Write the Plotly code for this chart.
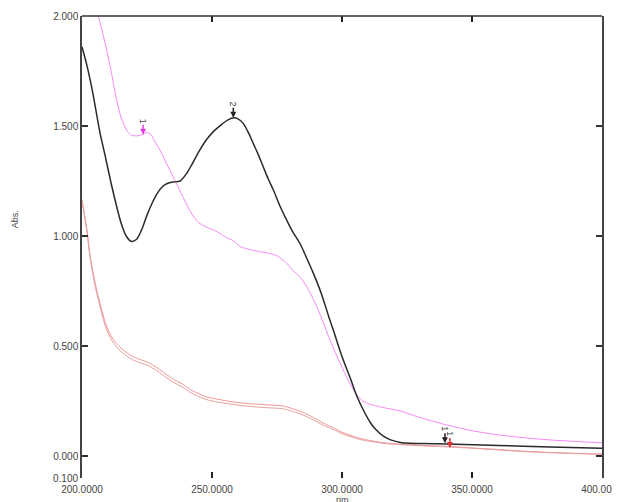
import plotly.graph_objects as go

# ---------------- data ----------------
black_nm = [200, 202, 204, 206.9, 209, 211, 213, 215, 217, 219, 221, 223, 225, 227, 229, 231, 233, 235,
            237.7, 240, 242, 245, 248, 251, 254, 256, 258.5, 260, 262, 264, 265.9, 267.8, 269.7, 271.6,
            273.6, 276, 278.7, 281, 283.8, 286.4, 289, 292, 295, 297, 299.2, 301, 303, 305.6, 308.2, 311,
            313, 315.9, 319, 323, 330, 340, 360, 380, 400]
black_abs = [1.86, 1.77, 1.66, 1.47, 1.36, 1.25, 1.15, 1.06, 1.0, 0.975, 0.985, 1.03, 1.095, 1.15, 1.195,
             1.225, 1.24, 1.245, 1.25, 1.28, 1.32, 1.385, 1.44, 1.48, 1.51, 1.527, 1.537, 1.532, 1.512,
             1.47, 1.42, 1.37, 1.315, 1.26, 1.209, 1.14, 1.073, 1.02, 0.967, 0.9, 0.83, 0.74, 0.63, 0.56,
             0.48, 0.42, 0.36, 0.275, 0.209, 0.15, 0.12, 0.09, 0.072, 0.06, 0.057, 0.055, 0.048, 0.041, 0.035]

pink_nm = [200, 203, 206.3, 208, 209.5, 211.5, 213.3, 215, 217.2, 219, 221, 223, 225, 226.5, 228, 230,
           232.5, 235, 237.5, 240, 242.5, 245, 248, 251, 253, 256, 258, 261, 264, 268, 272, 275, 278.7,
           281, 283.8, 286.4, 290.3, 293, 295.4, 298, 300.5, 303, 305.6, 308, 311, 314, 318, 322.3, 330,
           340.3, 350, 360.8, 370, 380, 390, 400]
pink_abs = [2.35, 2.15, 2.0, 1.92, 1.845, 1.73, 1.62, 1.54, 1.48, 1.458, 1.455, 1.46, 1.47, 1.46, 1.43,
            1.39, 1.33, 1.27, 1.21, 1.15, 1.095, 1.06, 1.04, 1.025, 1.012, 0.99, 0.98, 0.951, 0.94, 0.93,
            0.921, 0.91, 0.876, 0.845, 0.815, 0.77, 0.679, 0.6, 0.527, 0.455, 0.391, 0.33, 0.28, 0.25,
            0.235, 0.225, 0.215, 0.205, 0.175, 0.141, 0.115, 0.095, 0.083, 0.073, 0.066, 0.06]

red_nm = [200, 202, 203, 205, 207, 209, 211, 213, 216, 219, 222, 225.6, 229, 232, 235, 238.5, 242, 245,
          248, 251.3, 256, 260, 264, 268, 272, 277, 281, 285, 289, 292.8, 296.7, 300, 303, 307, 311, 315,
          320, 326, 333, 341.5, 350, 360.8, 370, 380, 390, 400]
red1_abs = [1.165, 1.02, 0.92, 0.79, 0.69, 0.605, 0.55, 0.515, 0.48, 0.455, 0.44, 0.425, 0.4, 0.375, 0.35,
            0.328, 0.3, 0.283, 0.268, 0.26, 0.25, 0.243, 0.238, 0.235, 0.232, 0.228, 0.215, 0.198, 0.175,
            0.15, 0.128, 0.108, 0.095, 0.08, 0.07, 0.062, 0.056, 0.052, 0.047, 0.043, 0.037, 0.029, 0.022,
            0.016, 0.012, 0.009]
red2_abs = [1.16, 1.01, 0.91, 0.775, 0.675, 0.59, 0.535, 0.5, 0.465, 0.44, 0.425, 0.41, 0.386, 0.36, 0.336,
            0.314, 0.287, 0.27, 0.256, 0.247, 0.238, 0.231, 0.226, 0.222, 0.219, 0.215, 0.203, 0.186, 0.164,
            0.14, 0.12, 0.101, 0.089, 0.075, 0.066, 0.059, 0.053, 0.049, 0.045, 0.041, 0.035, 0.027, 0.02,
            0.015, 0.011, 0.008]

# peak pick markers: (label, nm, abs, colour)
peak_labels = ["1", "2", "1", "1"]
peak_nm = [223.5, 258.2, 339.6, 341.5]
peak_abs = [1.46, 1.537, 0.058, 0.036]
peak_colors = ["#e040e0", "#222222", "#222222", "#e03030"]

x_ticks = [200, 250, 300, 350, 400]
x_ticktext = ["200.0000", "250.0000", "300.0000", "350.0000", "400.0000"]
y_ticks = [0, 0.5, 1.0, 1.5, 2.0]
y_ticktext = ["0.000", "0.500", "1.000", "1.500", "2.000"]
y_bottom_label = "0.100"

FONT = "Liberation Sans, Arial"

# ---------------- figure ----------------
fig = go.Figure()
fig.add_trace(go.Scatter(x=red_nm, y=red1_abs, mode="lines",
                         line=dict(color="#f29494", width=1, shape="spline", smoothing=0.8)))
fig.add_trace(go.Scatter(x=red_nm, y=red2_abs, mode="lines",
                         line=dict(color="#e6a0a0", width=1, shape="spline", smoothing=0.8)))
fig.add_trace(go.Scatter(x=pink_nm, y=pink_abs, mode="lines",
                         line=dict(color="#f489f4", width=1, shape="spline", smoothing=0.8)))
fig.add_trace(go.Scatter(x=black_nm, y=black_abs, mode="lines",
                         line=dict(color="#2a2a2a", width=1.5, shape="spline", smoothing=0.8)))

for lab, xv, yv, col in zip(peak_labels, peak_nm, peak_abs, peak_colors):
    fig.add_annotation(x=xv, y=yv, xref="x", yref="y", text=lab, textangle=90,
                       showarrow=True, arrowhead=2, arrowsize=0.8, arrowwidth=1.5,
                       arrowcolor=col, ax=0, ay=-14,
                       font=dict(family=FONT, size=9, color="#444"))

fig.add_annotation(x=0, y=-0.1, xref="paper", yref="y", text=y_bottom_label, showarrow=False,
                   xanchor="right", xshift=-2,
                   font=dict(family=FONT, size=10, color="#444"))
fig.add_annotation(x=-0.129, y=0.56, xref="paper", yref="paper", text="Abs.", textangle=-90,
                   showarrow=False, xanchor="center", yanchor="middle",
                   font=dict(family=FONT, size=9, color="#444"))
fig.add_annotation(x=0.5, y=0, xref="paper", yref="paper", text="nm", showarrow=False,
                   xanchor="center", yanchor="top", yshift=-15,
                   font=dict(family=FONT, size=9, color="#444"))

# top frame line
fig.add_shape(type="line", xref="paper", yref="paper", x0=0, x1=1, y0=1, y1=1,
              line=dict(color="#333", width=1.5))

# page body has an 8px margin, so the figure is 8px smaller than the window
fig.update_layout(
    width=612, height=494,
    margin=dict(l=74, r=18, t=8, b=24),
    paper_bgcolor="white", plot_bgcolor="white",
    showlegend=False,
    font=dict(family=FONT, size=10, color="#444"),
    xaxis=dict(range=[200, 400], tickvals=x_ticks, ticktext=x_ticktext,
               showgrid=False, zeroline=False, showline=False, mirror="ticks",
               ticks="inside", ticklen=6, tickwidth=1.5, tickcolor="#222",
               ticklabelstandoff=4, automargin=False, ticklabeloverflow="allow"),
    yaxis=dict(range=[-0.1, 2.0], tickvals=y_ticks, ticktext=y_ticktext,
               showgrid=False, zeroline=False, showline=True, linecolor="#444", linewidth=1.5,
               mirror="ticks", ticks="inside", ticklen=6, tickwidth=1.5, tickcolor="#333",
               automargin=False),
)

fig.write_html("out.html")
